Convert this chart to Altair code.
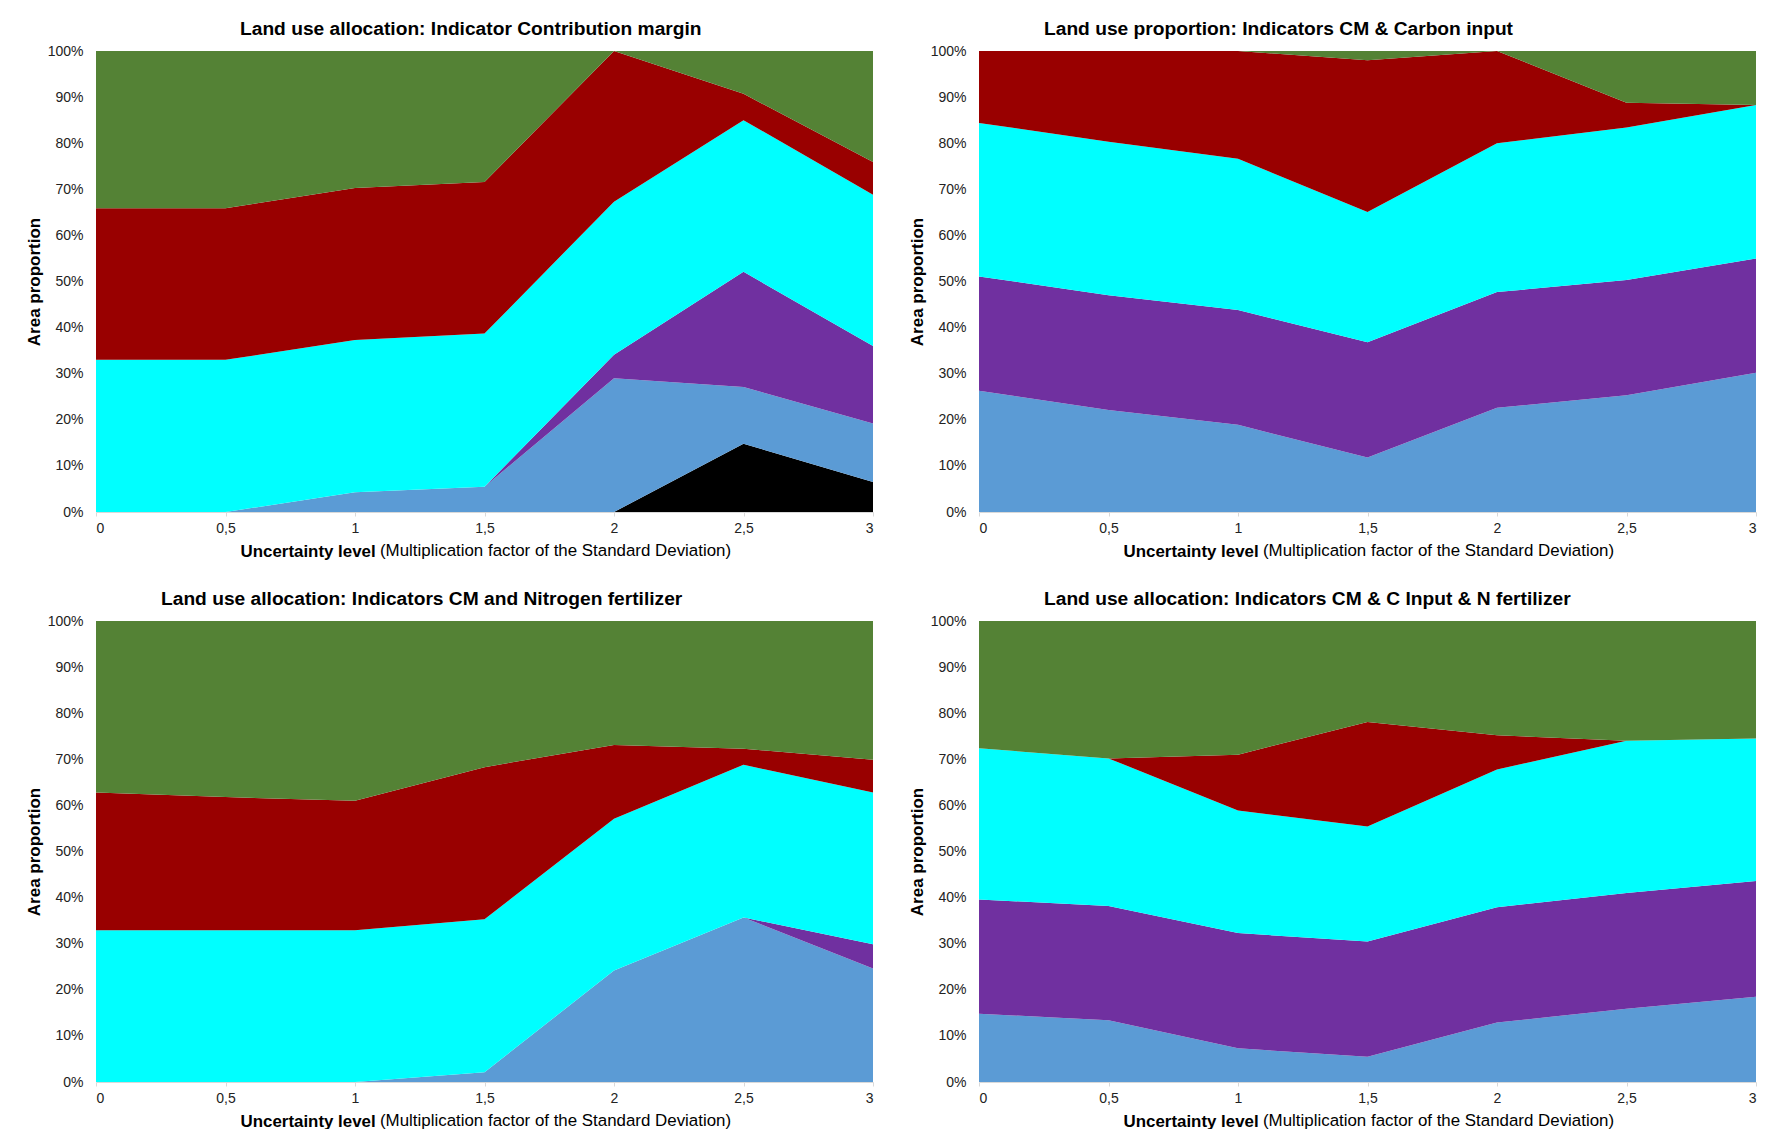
import altair as alt
import pandas as pd

FONT = "Liberation Sans"

LEVELS = [0, 0.5, 1, 1.5, 2, 2.5, 3]
SERIES = ["Series 1", "Series 2", "Series 3", "Series 4", "Series 5", "Series 6"]  # bottom -> top
COLORS = ["#000000", "#5B9BD5", "#7030A0", "#00FFFF", "#990000", "#548235"]

TITLES = [
    "Land use allocation: Indicator Contribution margin",
    "Land use proportion: Indicators CM & Carbon input",
    "Land use allocation: Indicators CM and Nitrogen fertilizer",
    "Land use allocation: Indicators CM & C Input & N fertilizer",
]
X_TITLE_BOLD = "Uncertainty level"
X_TITLE_REST = "(Multiplication factor of the Standard Deviation)"
Y_TITLE = "Area proportion"

# Panel 1: Contribution margin (shares in %, per uncertainty level)
P1_S1 = [0, 0, 0, 0, 0, 14.8, 6.5]
P1_S2 = [0, 0, 4.3, 5.5, 29.0, 12.3, 12.7]
P1_S3 = [0, 0, 0, 0, 5.1, 25.0, 16.8]
P1_S4 = [33.0, 33.0, 33.0, 33.2, 33.2, 32.9, 32.8]
P1_S5 = [32.9, 32.9, 33.0, 32.9, 32.7, 5.7, 7.1]
P1_S6 = [34.1, 34.1, 29.7, 28.4, 0, 9.3, 24.1]

# Panel 2: CM & Carbon input
P2_S1 = [0, 0, 0, 0, 0, 0, 0]
P2_S2 = [26.3, 22.1, 18.9, 11.8, 22.6, 25.3, 30.2]
P2_S3 = [24.8, 24.9, 24.9, 25.0, 25.1, 25.0, 24.8]
P2_S4 = [33.3, 33.3, 32.8, 28.3, 32.3, 33.1, 33.3]
P2_S5 = [15.6, 19.7, 23.4, 32.9, 20.0, 5.4, 0]
P2_S6 = [0, 0, 0, 2.0, 0, 11.2, 11.7]

# Panel 3: CM and Nitrogen fertilizer
P3_S1 = [0, 0, 0, 0, 0, 0, 0]
P3_S2 = [0, 0, 0, 2.1, 24.2, 35.7, 24.6]
P3_S3 = [0, 0, 0, 0, 0, 0, 5.3]
P3_S4 = [32.9, 32.9, 32.9, 33.2, 32.9, 33.1, 32.9]
P3_S5 = [29.9, 28.9, 28.1, 33.0, 16.0, 3.5, 7.1]
P3_S6 = [37.2, 38.2, 39.0, 31.7, 26.9, 27.7, 30.1]

# Panel 4: CM & C input & N fertilizer
P4_S1 = [0, 0, 0, 0, 0, 0, 0]
P4_S2 = [14.8, 13.4, 7.3, 5.5, 12.9, 15.9, 18.5]
P4_S3 = [24.8, 24.8, 25.0, 25.0, 25.0, 25.1, 25.1]
P4_S4 = [32.8, 32.0, 26.6, 24.9, 29.9, 33.0, 30.9]
P4_S5 = [0, 0, 12.1, 22.7, 7.4, 0, 0]
P4_S6 = [27.6, 29.8, 29.0, 21.9, 24.8, 26.0, 25.5]

PANELS = [
    [P1_S1, P1_S2, P1_S3, P1_S4, P1_S5, P1_S6],
    [P2_S1, P2_S2, P2_S3, P2_S4, P2_S5, P2_S6],
    [P3_S1, P3_S2, P3_S3, P3_S4, P3_S5, P3_S6],
    [P4_S1, P4_S2, P4_S3, P4_S4, P4_S5, P4_S6],
]
TITLE_DX = [144, 65, 65, 65]

W, H = 777, 461


def make_panel(series_vals, title, title_dx):
    rows = []
    for idx, (name, vals) in enumerate(zip(SERIES, series_vals)):
        for lvl, v in zip(LEVELS, vals):
            rows.append({"level": lvl, "share": v, "series": name, "order": idx})
    df = pd.DataFrame(rows)

    area = alt.Chart(df).mark_area(interpolate="linear", clip=True).encode(
        x=alt.X(
            "level:Q",
            scale=alt.Scale(domain=[0, 3], nice=False, zero=False),
            axis=alt.Axis(
                values=LEVELS,
                labelExpr="replace(toString(datum.value), '.', ',')",
                title=X_TITLE_BOLD,
                titleX=144,
                titleY=39,
                titleAlign="left",
                titleBaseline="middle",
                titleFontWeight="bold",
                titleFontSize=16.9,
                domainColor="#d9d9d9",
                tickColor="#d9d9d9",
                tickSize=4,
                labelPadding=5,
                grid=False,
            ),
        ),
        y=alt.Y(
            "share:Q",
            stack="zero",
            scale=alt.Scale(domain=[0, 100], nice=False),
            axis=alt.Axis(
                values=list(range(0, 101, 10)),
                labelExpr="datum.value + '%'",
                title=Y_TITLE,
                titleX=-62,
                titleY=H / 2,
                titleAngle=-90,
                titleAlign="center",
                titleBaseline="middle",
                titleFontWeight="bold",
                domain=False,
                ticks=False,
                tickSize=0,
                labelPadding=13,
                grid=False,
            ),
        ),
        color=alt.Color("series:N", scale=alt.Scale(domain=SERIES, range=COLORS), legend=None),
        order=alt.Order("order:Q", sort="ascending"),
    )

    rest = alt.Chart(pd.DataFrame({"t": [X_TITLE_REST]})).mark_text(
        align="left", baseline="middle", font=FONT, fontSize=16.9, color="#000000"
    ).encode(
        x=alt.value(144 + 140),
        y=alt.value(H + 39),
        text="t:N",
    )

    return alt.layer(area, rest).properties(
        width=W,
        height=H,
        title=alt.TitleParams(
            text=title,
            anchor="start",
            frame="group",
            dx=title_dx,
            offset=5,
            fontSize=19.2,
            fontWeight="bold",
            font=FONT,
            color="#000000",
        ),
    )


charts = [make_panel(PANELS[i], TITLES[i], TITLE_DX[i]) for i in range(4)]

chart = alt.vconcat(
    alt.hconcat(charts[0], charts[1], spacing=34),
    alt.hconcat(charts[2], charts[3], spacing=34),
    spacing=30,
).properties(
    padding={"left": 17, "top": 11, "right": 0, "bottom": 0},
    background="white",
).configure_view(
    stroke=None
).configure_axis(
    labelFont=FONT,
    labelFontSize=14,
    labelColor="#222222",
    titleFont=FONT,
    titleFontSize=17,
    titleColor="#000000",
)

chart.save("out.html", embed_options={"renderer": "svg", "actions": False})
